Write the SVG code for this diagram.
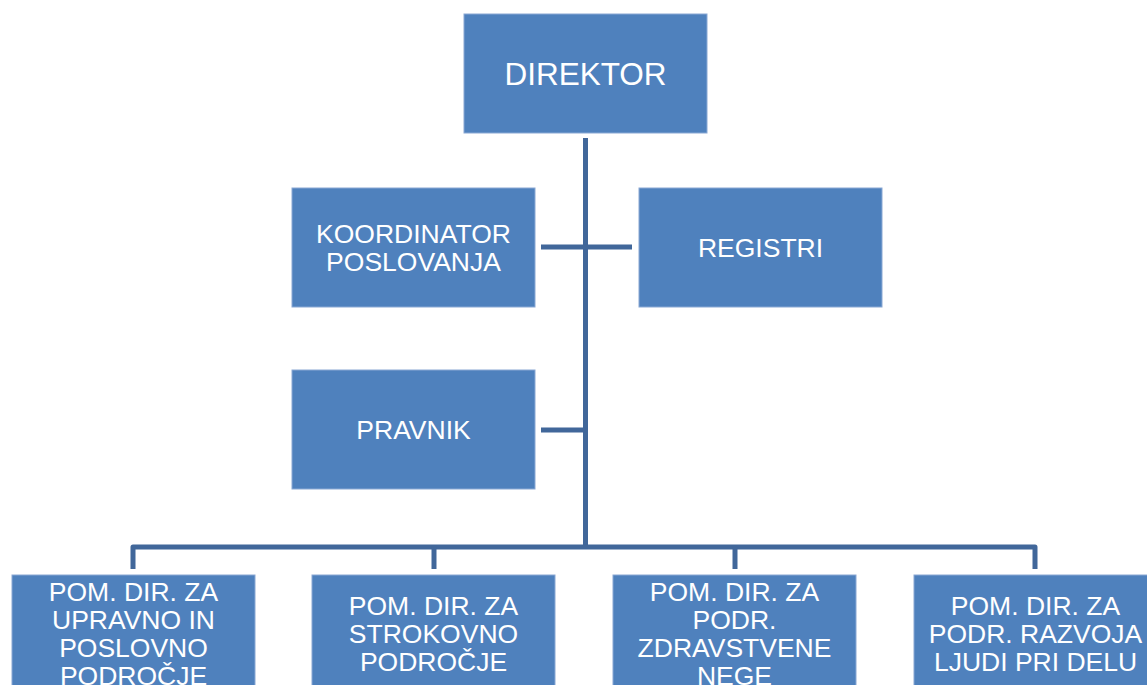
<svg xmlns="http://www.w3.org/2000/svg" width="1147" height="685" viewBox="0 0 1147 685">
<style>
.box{fill:#4F81BD;stroke:#8AA8D4;stroke-width:1}
.t{fill:#FFFFFF;font-family:"Liberation Sans",Arial,sans-serif;font-size:26.5px;text-anchor:middle}
.big{font-size:31.5px}
.ln{fill:none;stroke:#41679A;stroke-width:5;stroke-linejoin:round}
</style>
<rect width="1147" height="685" fill="#FFFFFF"/>
<g id="connectors">
<path class="ln" d="M585.5,138 V547"/>
<path class="ln" d="M541,247 H632"/>
<path class="ln" d="M541,430 H585.5"/>
<path class="ln" d="M133,569 V547 H1035 V569"/>
<path class="ln" d="M434,547 V569"/>
<path class="ln" d="M735,547 V569"/>
</g>
<g id="direktor">
<rect class="box" x="464" y="14" width="243" height="119"/>
<text class="t big" x="585.5" y="85">DIREKTOR</text>
</g>
<g id="koordinator">
<rect class="box" x="292" y="188" width="243" height="119"/>
<text class="t" x="413.5" y="243">KOORDINATOR</text>
<text class="t" x="413.5" y="271">POSLOVANJA</text>
</g>
<g id="registri">
<rect class="box" x="639" y="188" width="243" height="119"/>
<text class="t" x="760.5" y="257">REGISTRI</text>
</g>
<g id="pravnik">
<rect class="box" x="292" y="370" width="243" height="119"/>
<text class="t" x="413.5" y="439">PRAVNIK</text>
</g>
<g id="pom1">
<rect class="box" x="12" y="575" width="243" height="119"/>
<text class="t" x="133.5" y="601">POM. DIR. ZA</text>
<text class="t" x="133.5" y="629">UPRAVNO IN</text>
<text class="t" x="133.5" y="657">POSLOVNO</text>
<text class="t" x="133.5" y="685">PODROČJE</text>
</g>
<g id="pom2">
<rect class="box" x="312" y="575" width="243" height="119"/>
<text class="t" x="433.5" y="615">POM. DIR. ZA</text>
<text class="t" x="433.5" y="643">STROKOVNO</text>
<text class="t" x="433.5" y="671">PODROČJE</text>
</g>
<g id="pom3">
<rect class="box" x="613" y="575" width="243" height="119"/>
<text class="t" x="734.5" y="601">POM. DIR. ZA</text>
<text class="t" x="734.5" y="629">PODR.</text>
<text class="t" x="734.5" y="657">ZDRAVSTVENE</text>
<text class="t" x="734.5" y="685">NEGE</text>
</g>
<g id="pom4">
<rect class="box" x="914" y="575" width="243" height="119"/>
<text class="t" x="1035.5" y="615">POM. DIR. ZA</text>
<text class="t" x="1035.5" y="643">PODR. RAZVOJA</text>
<text class="t" x="1035.5" y="671">LJUDI PRI DELU</text>
</g>
</svg>
